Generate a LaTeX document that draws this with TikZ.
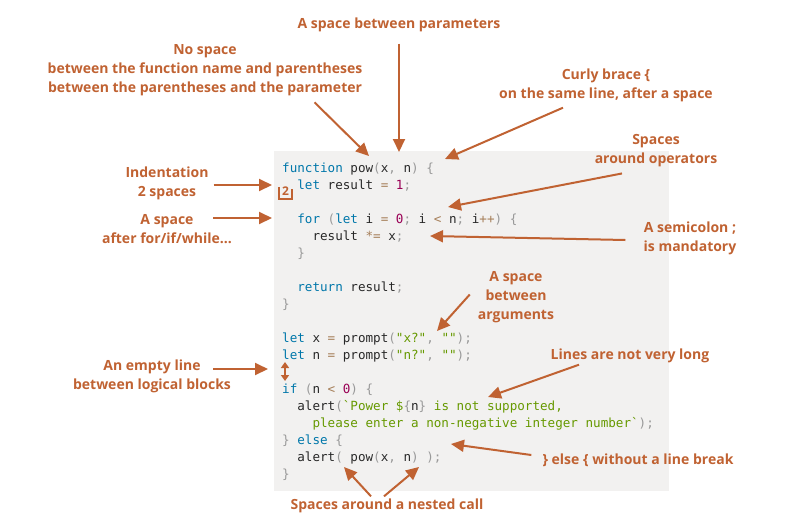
\documentclass[tikz,border=0pt]{standalone}
\usepackage{fontspec}
\setmainfont{Open Sans}
\setmonofont{DejaVu Sans Mono}
\usepackage{tikz}
\usetikzlibrary{arrows.meta}
\definecolor{notec}{RGB}{192, 98, 50}
\definecolor{codebg}{RGB}{242, 241, 240}
\definecolor{plainc}{RGB}{40, 40, 40}
\definecolor{kwblue}{RGB}{0, 119, 170}
\definecolor{numred}{RGB}{153, 0, 85}
\definecolor{strgreen}{RGB}{102, 153, 0}
\definecolor{pungray}{RGB}{153, 153, 153}
\definecolor{opbrown}{RGB}{166, 127, 89}
\newcommand{\kw}[1]{\textcolor{kwblue}{#1}}
\newcommand{\nm}[1]{\textcolor{numred}{#1}}
\newcommand{\st}[1]{\textcolor{strgreen}{#1}}
\newcommand{\pu}[1]{\textcolor{pungray}{#1}}
\newcommand{\op}[1]{\textcolor{opbrown}{#1}}
\newcommand{\ind}{\hphantom{xx}}

\begin{document}
\begin{tikzpicture}[x=1pt, y=-1pt,
  note/.style={font=\bfseries\fontsize{14}{19}\selectfont, text=notec, align=center, inner sep=0pt},
  code/.style={font=\ttfamily\fontsize{12.6}{17}\selectfont, text=plainc, anchor=base west, inner sep=0pt},
  arr/.style={draw=notec, line width=2pt, -{Triangle[length=13pt, width=12pt]}},
]
  \useasboundingbox (0,0) rectangle (808,531);
  \fill[codebg] (274,151) rectangle (669,491);

  % code
  \node[code] (l0)  at (282,172) {\kw{function} pow\pu{(}x\pu{,} n\pu{)} \pu{\{}};
  \node[code] (l1)  at (282,189) {\ind\kw{let} result \op{=} \nm{1}\pu{;}};
  \node[code] (l3)  at (282,223) {\ind\kw{for} \pu{(}\kw{let} i \op{=} \nm{0}\pu{;} i \op{<} n\pu{;} i\op{++}\pu{)} \pu{\{}};
  \node[code] (l4)  at (282,240) {\ind\ind result \op{*=} x\pu{;}};
  \node[code] (l5)  at (282,257) {\ind\pu{\}}};
  \node[code] (l7)  at (282,291) {\ind\kw{return} result\pu{;}};
  \node[code] (l8)  at (282,308) {\pu{\}}};
  \node[code] (l10) at (282,342) {\kw{let} x \op{=} prompt\pu{(}\st{"x?"}\pu{,} \st{""}\pu{);}};
  \node[code] (l11) at (282,359) {\kw{let} n \op{=} prompt\pu{(}\st{"n?"}\pu{,} \st{""}\pu{);}};
  \node[code] (l13) at (282,393) {\kw{if} \pu{(}n \op{<} \nm{0}\pu{)} \pu{\{}};
  \node[code] (l14) at (282,410) {\ind alert\pu{(}\st{\textasciigrave Power \$}\pu{\{}n\pu{\}} \st{is not supported,}};
  \node[code] (l15) at (282,427) {\ind\ind\st{please enter a non-negative integer number\textasciigrave}\pu{);}};
  \node[code] (l16) at (282,444) {\pu{\}} \kw{else} \pu{\{}};
  \node[code] (l17) at (282,461) {\ind alert\pu{(} pow\pu{(}x\pu{,} n\pu{)} \pu{);}};
  \node[code] (l18) at (282,478) {\pu{\}}};

  % marks in the code
  \draw[notec, line width=1.6pt] (279,187) -- (279,199) -- (292,199) -- (292,189);
  \node[text=notec, font=\bfseries\fontsize{12}{12}\selectfont, inner sep=0pt] (two) at (285.5,191) {2};
  \coordinate (gaptop) at (285,362);
  \coordinate (gapbot) at (285,381);
  \draw[notec, line width=1.6pt, {Triangle[length=6pt, width=8pt]}-{Triangle[length=6pt, width=8pt]}] (gaptop) -- (gapbot);

  % notes
  \node[note] (param)     at (399,24.5)  {A space between parameters};
  \node[note] (nospace)   at (205,70.5)  {No space\\between the function name and parentheses\\between the parentheses and the parameter};
  \node[note] (curly)     at (606,85)    {Curly brace \{\\on the same line, after a space};
  \node[note] (ops)       at (656,151)   {Spaces\\around operators};
  \node[note] (indent)    at (167,183)   {Indentation\\2 spaces};
  \node[note] (forspace)  at (167,229)   {A space\\after for/if/while...};
  \node[note] (semi)      at (690,238)   {A semicolon ;\\is mandatory};
  \node[note] (args)      at (516,297.5) {A space\\between\\arguments};
  \node[note] (longline)  at (630,355.5) {Lines are not very long};
  \node[note] (emptyline) at (152,376)   {An empty line\\between logical blocks};
  \node[note] (elsebrk)   at (638,460.5) {\} else \{ without a line break};
  \node[note] (nested)    at (387,505.5) {Spaces around a nested call};

  % arrow tips
  \coordinate (t-param)   at (399,152);
  \coordinate (t-nospace) at (369,156);
  \coordinate (t-curly)   at (445,159);
  \coordinate (t-ops)     at (448,207);
  \coordinate (t-indent)  at (272,185);
  \coordinate (t-for)     at (272,218);
  \coordinate (t-semi)    at (430,236);
  \coordinate (t-args)    at (437,331);
  \coordinate (t-long)    at (488,397);
  \coordinate (t-empty)   at (268,369);
  \coordinate (t-else)    at (451,444);
  \coordinate (t-nest1)   at (344,467);
  \coordinate (t-nest2)   at (419,467);

  \draw[arr] ([yshift=-12pt]param.south) -- (t-param);
  \draw[arr] ([xshift=-48pt, yshift=-6pt]nospace.south east) -- (t-nospace);
  \draw[arr] ([xshift=-43pt, yshift=-6pt]curly.south) -- (t-curly);
  \draw[arr] ([xshift=-34pt, yshift=-6pt]ops.south) -- (t-ops);
  \draw[arr] ([xshift=5pt, yshift=-2pt]indent.east) -- (t-indent);
  \draw[arr] ([xshift=-19pt, yshift=11pt]forspace.east) -- (t-for);
  \draw[arr] ([xshift=-18pt, yshift=-2pt]semi.west) -- (t-semi);
  \draw[arr] ([xshift=-8pt, yshift=3pt]args.west) -- (t-args);
  \draw[arr] ([xshift=-51pt, yshift=-2pt]longline.south) -- (t-long);
  \draw[arr] ([xshift=-18pt, yshift=7pt]emptyline.east) -- (t-empty);
  \draw[arr] ([xshift=-11pt, yshift=5.5pt]elsebrk.west) -- (t-else);
  \draw[arr] ([xshift=-16pt, yshift=2pt]nested.north) -- (t-nest1);
  \draw[arr] ([xshift=-3pt, yshift=2pt]nested.north) -- (t-nest2);
\end{tikzpicture}
\end{document}
